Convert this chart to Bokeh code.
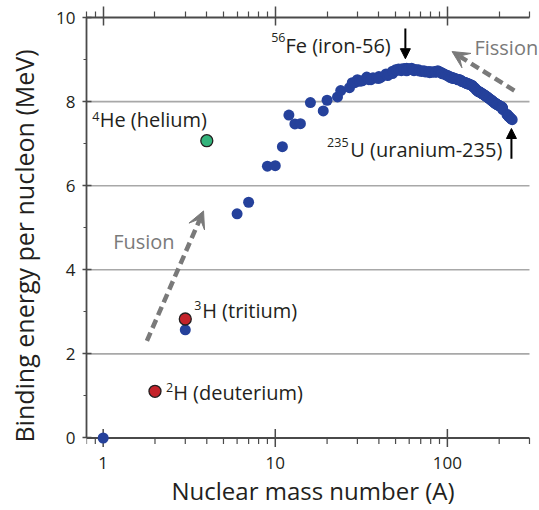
from bokeh.plotting import figure
from bokeh.models import (LogAxis, FixedTicker, Range1d, Arrow, VeeHead,
                          NormalHead, CustomJSTickFormatter)
from bokeh.core.properties import value
from bokeh.embed import file_html
from bokeh.resources import INLINE

# ---------------- data ----------------
# mass number A and binding energy per nucleon (MeV) of the blue nuclides
mass_blue = [1, 3, 6, 7, 9, 10, 11, 12, 13, 14, 16, 19, 20, 23, 24,
             27, 28, 29, 30, 31, 32, 34, 35, 37, 36, 40, 39, 41, 40, 44, 48,
             45, 46, 48, 50, 51, 52, 54, 55, 54, 56, 58, 59, 58, 60, 62,
             63, 65, 64, 66, 68, 69, 71, 72, 74, 75, 78, 80, 79, 81, 84, 86,
             85, 87, 86, 88, 89, 90, 92, 94, 93, 96, 98, 100, 102, 103,
             105, 106, 108, 107, 109, 110, 112, 114, 115, 116, 118, 120,
             121, 123, 126, 128, 130, 127, 129, 132, 134, 133, 136, 138,
             139, 140, 141, 142, 144, 146, 147, 149, 152, 154, 151, 153,
             156, 158, 160, 159, 162, 164, 165, 166, 168, 169, 172, 174,
             175, 178, 180, 181, 182, 184, 186, 187, 189, 190, 192, 191,
             193, 194, 195, 196, 197, 200, 202, 203, 205, 206, 207, 208,
             209, 209, 210, 222, 223, 226, 227, 232, 231, 235, 238]
be_blue = [0.0, 2.573, 5.332, 5.606, 6.463, 6.475, 6.928, 7.680, 7.470,
           7.476, 7.976, 7.779, 8.032, 8.112, 8.261,
           8.332, 8.448, 8.449, 8.521, 8.481, 8.493, 8.584, 8.520, 8.570,
           8.520, 8.595, 8.557, 8.576, 8.551, 8.658, 8.666,
           8.619, 8.656, 8.723, 8.756, 8.742, 8.776, 8.778, 8.765, 8.736,
           8.790, 8.792, 8.768, 8.732, 8.781, 8.795,
           8.752, 8.757, 8.736, 8.760, 8.756, 8.725, 8.718, 8.732, 8.725,
           8.701, 8.718, 8.711, 8.688, 8.696, 8.717, 8.712,
           8.698, 8.711, 8.708, 8.733, 8.714, 8.710, 8.693, 8.667, 8.664,
           8.654, 8.635, 8.619, 8.607, 8.584,
           8.571, 8.580, 8.567, 8.554, 8.548, 8.551, 8.545, 8.532, 8.517,
           8.523, 8.517, 8.505,
           8.482, 8.472, 8.463, 8.449, 8.430, 8.446, 8.431, 8.428, 8.414,
           8.410, 8.403, 8.394,
           8.378, 8.376, 8.354, 8.346, 8.327, 8.304, 8.281, 8.263, 8.244,
           8.227, 8.239, 8.229,
           8.215, 8.202, 8.183, 8.189, 8.173, 8.159, 8.147, 8.142, 8.130,
           8.115, 8.097, 8.084,
           8.069, 8.052, 8.035, 8.023, 8.018, 8.005, 7.989, 7.978, 7.963,
           7.962, 7.948, 7.948,
           7.938, 7.936, 7.927, 7.927, 7.916, 7.906, 7.897, 7.887, 7.878,
           7.875, 7.870, 7.868,
           7.848, 7.835, 7.812, 7.695, 7.683, 7.662, 7.651, 7.615, 7.618,
           7.591, 7.570]

mass_red = [2, 3]          # deuterium, tritium
be_red = [1.11, 2.83]
mass_green = [4]           # helium-4
be_green = [7.07]

x_ticks = [1, 10, 100]
x_labels = ["1", "10", "100"]
x_minor = [0.8, 0.9, 2, 3, 4, 5, 6, 7, 8, 9, 20, 30, 40, 50, 60, 70, 80, 90,
           200, 300]
y_ticks = [0, 2, 4, 6, 8, 10]
y_labels = ["0", "2", "4", "6", "8", "10"]
y_minor = [1, 3, 5, 7, 9]
grid_ticks = [2, 4, 6, 8]

# annotation texts (superscript, main text)
lab_sup = ["4", "3", "2", "56", "235"]
lab_main = ["He (helium)", "H (tritium)", "H (deuterium)", "Fe (iron-56)",
            "U (uranium-235)"]
sup_x = [0.863, 3.38, 2.32, 9.47, 20.0]
sup_y = [7.52, 3.03, 1.07, 9.40, 6.90]
main_x = [0.954, 3.76, 2.55, 11.45, 27.3]
main_y = [7.38, 2.83, 0.90, 9.15, 6.67]

# ---------------- style ----------------
FONT = "Open Sans"
TXT = "#231f20"
AXC = "#4a4a4a"
GRAY = "#7a7a7a"
BLUE = "#25419b"
RED = "#c4222a"
GREEN = "#33b37b"

X_LO, X_HI = 0.8, 300
Y_LO = -0.25          # a little room below 0 so the A=1 marker is not cut
PX = 42.0             # pixels per MeV on the frame (for tick lengths)


def label_formatter(tvals, tlabs):
    return CustomJSTickFormatter(
        args=dict(tvals=tvals, tlabs=tlabs),
        code="""
        for (let i = 0; i < tvals.length; i++) {
            if (Math.abs(tvals[i] - tick) < 1e-9 * Math.max(1, Math.abs(tick))) return tlabs[i];
        }
        return "";
        """)


p = figure(width=539, height=510, x_axis_type="log",
           output_backend="svg", toolbar_location=None,
           x_range=Range1d(X_LO, 343), y_range=Range1d(Y_LO, 10),
           min_border_left=86, min_border_right=0, min_border_top=17,
           min_border_bottom=62)
p.outline_line_color = None
p.background_fill_color = "white"
p.border_fill_color = "white"
p.xgrid.visible = False
p.ygrid.visible = False

# horizontal grid lines, spanning the axis extent
p.segment(x0=[X_LO] * len(grid_ticks), x1=[X_HI] * len(grid_ticks),
          y0=grid_ticks, y1=grid_ticks, line_color="#a8a8a8", line_width=1.6)

# x axis rule at y = 0 with its ticks (drawn in the frame)
p.segment(x0=[X_LO], x1=[X_HI], y0=[0], y1=[0], line_color=AXC,
          line_width=1.8)
p.segment(x0=x_ticks, x1=x_ticks, y0=[-9 / PX] * len(x_ticks),
          y1=[9 / PX] * len(x_ticks), line_color=AXC, line_width=1.5)
p.segment(x0=x_minor, x1=x_minor, y0=[-6 / PX] * len(x_minor),
          y1=[0] * len(x_minor), line_color=AXC, line_width=1.2)

# bottom axis: labels only
xax = p.xaxis[0]
xax.ticker = FixedTicker(ticks=x_ticks, minor_ticks=[])
xax.formatter = label_formatter(x_ticks, x_labels)
xax.bounds = (X_LO, X_HI)
xax.axis_line_color = None
xax.major_tick_line_color = None
xax.minor_tick_line_color = None
xax.major_tick_in = 0
xax.major_tick_out = 0
xax.minor_tick_in = 0
xax.minor_tick_out = 0
xax.major_label_text_font = FONT
xax.major_label_text_font_size = "17px"
xax.major_label_text_color = TXT
xax.major_label_standoff = 8
xax.axis_label = "Nuclear mass number (A)"
xax.axis_label_text_font = FONT
xax.axis_label_text_font_size = "24px"
xax.axis_label_text_font_style = "normal"
xax.axis_label_text_color = TXT
xax.axis_label_standoff = 2

# top axis (ticks only)
top = LogAxis(ticker=FixedTicker(ticks=x_ticks, minor_ticks=x_minor))
top.bounds = (X_LO, X_HI)
top.major_label_text_alpha = 0
top.major_label_text_font_size = "1px"
top.major_label_standoff = 0
top.axis_line_color = AXC
top.axis_line_width = 1.8
top.major_tick_line_color = AXC
top.minor_tick_line_color = AXC
top.major_tick_line_width = 1.5
top.minor_tick_line_width = 1.2
top.major_tick_in = 8
top.major_tick_out = 11
top.minor_tick_in = 0
top.minor_tick_out = 6
p.add_layout(top, "above")

# left axis
yax = p.yaxis[0]
yax.ticker = FixedTicker(ticks=y_ticks, minor_ticks=y_minor)
yax.formatter = label_formatter(y_ticks, y_labels)
yax.bounds = (0, 10)
yax.axis_line_color = AXC
yax.axis_line_width = 1.8
yax.major_tick_line_color = AXC
yax.minor_tick_line_color = AXC
yax.major_tick_line_width = 1.5
yax.minor_tick_line_width = 1.2
yax.major_tick_in = 5
yax.major_tick_out = 4
yax.minor_tick_in = 0
yax.minor_tick_out = 3
yax.major_label_text_font = FONT
yax.major_label_text_font_size = "17px"
yax.major_label_text_color = TXT
yax.major_label_standoff = 7
yax.axis_label = "Binding energy per nucleon (MeV)\u00a0\u00a0\u00a0\u00a0"
yax.axis_label_text_font = FONT
yax.axis_label_text_font_size = "25px"
yax.axis_label_text_font_style = "normal"
yax.axis_label_text_color = TXT
yax.axis_label_standoff = 12

# points
p.scatter(mass_blue, be_blue, size=11, fill_color=BLUE, line_color=None)
p.scatter(mass_red, be_red, size=12, fill_color=RED, line_color=TXT,
          line_width=1.3)
p.scatter(mass_green, be_green, size=12, fill_color=GREEN, line_color=TXT,
          line_width=1.3)

# labels
p.text(x=main_x, y=main_y, text=lab_main, text_font=value(FONT),
       text_font_size="20px", text_color=TXT, text_align="left",
       text_baseline="alphabetic", y_offset=-8)
p.text(x=sup_x, y=sup_y, text=lab_sup, text_font=value(FONT),
       text_font_size="12.5px", text_color=TXT, text_align="left",
       text_baseline="alphabetic", y_offset=-5)
p.text(x=[1.143, 143.6], y=[4.48, 9.095], text=["Fusion", "Fission"],
       text_font=value(FONT), text_font_size="20px", text_color=GRAY,
       text_align="left", text_baseline="alphabetic", y_offset=-8)

# arrows
p.add_layout(Arrow(end=VeeHead(size=17, fill_color=GRAY, line_color=GRAY),
                   x_start=1.795, y_start=2.31, x_end=3.83, y_end=5.40,
                   line_color=GRAY, line_width=4.5, line_dash="9 5"))
p.add_layout(Arrow(end=VeeHead(size=17, fill_color=GRAY, line_color=GRAY),
                   x_start=245, y_start=8.26, x_end=106.5, y_end=9.19,
                   line_color=GRAY, line_width=4.5, line_dash="9 5"))
p.add_layout(Arrow(end=NormalHead(size=10, fill_color="black",
                                  line_color="black"),
                   x_start=57, y_start=9.74, x_end=57, y_end=9.02,
                   line_color="black", line_width=2))
p.add_layout(Arrow(end=NormalHead(size=10, fill_color="black",
                                  line_color="black"),
                   x_start=235.6, y_start=6.64, x_end=235.6, y_end=7.36,
                   line_color="black", line_width=2))

open("out.html", "w").write(file_html(p, INLINE))
